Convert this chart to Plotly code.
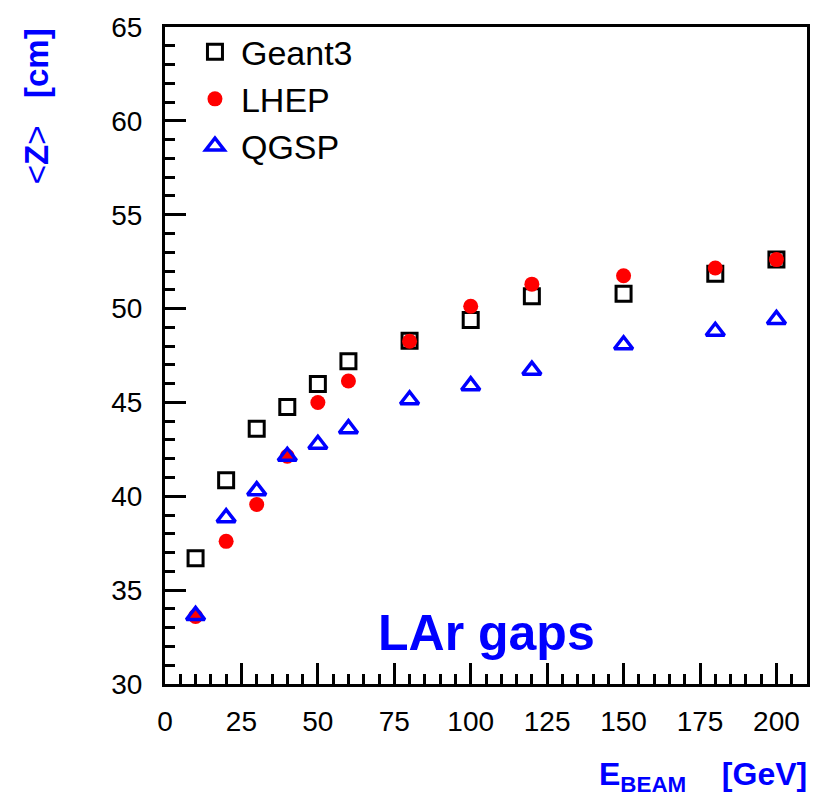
import plotly.graph_objects as go

energy = [10, 20, 30, 40, 50, 60, 80, 100, 120, 150, 180, 200]
geant3 = [36.7, 40.86, 43.6, 44.75, 45.98, 47.19, 48.28, 49.39, 50.65, 50.79, 51.86, 52.61]
lhep = [33.6, 37.6, 39.56, 42.13, 45.0, 46.14, 48.26, 50.12, 51.3, 51.75, 52.16, 52.61]
qgsp = [33.65, 38.86, 40.3, 42.13, 42.77, 43.6, 45.14, 45.89, 46.72, 48.07, 48.79, 49.42]
x_ticks = [0, 25, 50, 75, 100, 125, 150, 175, 200]
y_ticks = [30, 35, 40, 45, 50, 55, 60, 65]

FONT = "Liberation Sans, Arial, Helvetica, sans-serif"

fig = go.Figure()
fig.add_trace(go.Scatter(x=energy, y=geant3, mode="markers", name="Geant3",
                         marker=dict(symbol="square-open", size=15, color="black",
                                     line=dict(width=3, color="black"))))
fig.add_trace(go.Scatter(x=energy, y=lhep, mode="markers", name="LHEP",
                         marker=dict(symbol="circle", size=15, color="#ff0000",
                                     line=dict(width=0))))
fig.add_trace(go.Scatter(x=energy, y=qgsp, mode="markers", name="QGSP",
                         marker=dict(symbol="triangle-up-open", size=16, color="#0000ff",
                                     line=dict(width=3.5, color="#0000ff"))))

L, R, T, B = 165, 14, 19, 117
W, H = 822, 801
pw = W - L - R
ph = H - T - B

def px(xp):
    return (xp - L) / pw

def py(yp):
    return (H - B - yp) / ph

axis_common = dict(showline=True, linewidth=3, linecolor="black", mirror=True,
                   ticks="inside", tickwidth=3, tickcolor="black",
                   showgrid=False, zeroline=False,
                   tickfont=dict(family=FONT, size=28, color="black"))

fig.update_xaxes(range=[0, 210], tickvals=x_ticks, ticklen=21,
                 minor=dict(ticks="inside", dtick=5, tick0=0, ticklen=10, tickwidth=2.5,
                            tickcolor="black", showgrid=False),
                 ticklabelstandoff=10, **axis_common)
fig.update_yaxes(range=[30, 65], tickvals=y_ticks, ticklen=21,
                 minor=dict(ticks="inside", dtick=1, tick0=30, ticklen=10, tickwidth=2.5,
                            tickcolor="black", showgrid=False),
                 ticklabelstandoff=14, **axis_common)

fig.add_annotation(text="&lt;<b>Z</b>&gt;   <b>[cm]</b>", textangle=-90,
                   xref="paper", yref="paper", x=px(36), y=py(99),
                   xanchor="center", yanchor="middle", showarrow=False,
                   font=dict(family=FONT, size=33, color="#0000ff"))
fig.add_annotation(text="<b>E<sub>BEAM</sub></b>    <b>[GeV]</b>",
                   xref="paper", yref="paper", x=px(810), y=py(778),
                   xanchor="right", yanchor="middle", showarrow=False,
                   font=dict(family=FONT, size=32, color="#0000ff"))
fig.add_annotation(text="<b>LAr gaps</b>",
                   xref="paper", yref="paper", x=px(487), y=py(632),
                   xanchor="center", yanchor="middle", showarrow=False,
                   font=dict(family=FONT, size=50, color="#0000ff"))

fig.update_layout(
    width=W, height=H,
    margin=dict(l=L, r=R, t=T, b=B),
    paper_bgcolor="white", plot_bgcolor="white",
    showlegend=True,
    legend=dict(x=px(189), y=py(15), xanchor="left", yanchor="top",
                bgcolor="rgba(0,0,0,0)", borderwidth=0, itemwidth=42,
                font=dict(family=FONT, size=34, color="black")),
)

fig.write_html("out.html")
